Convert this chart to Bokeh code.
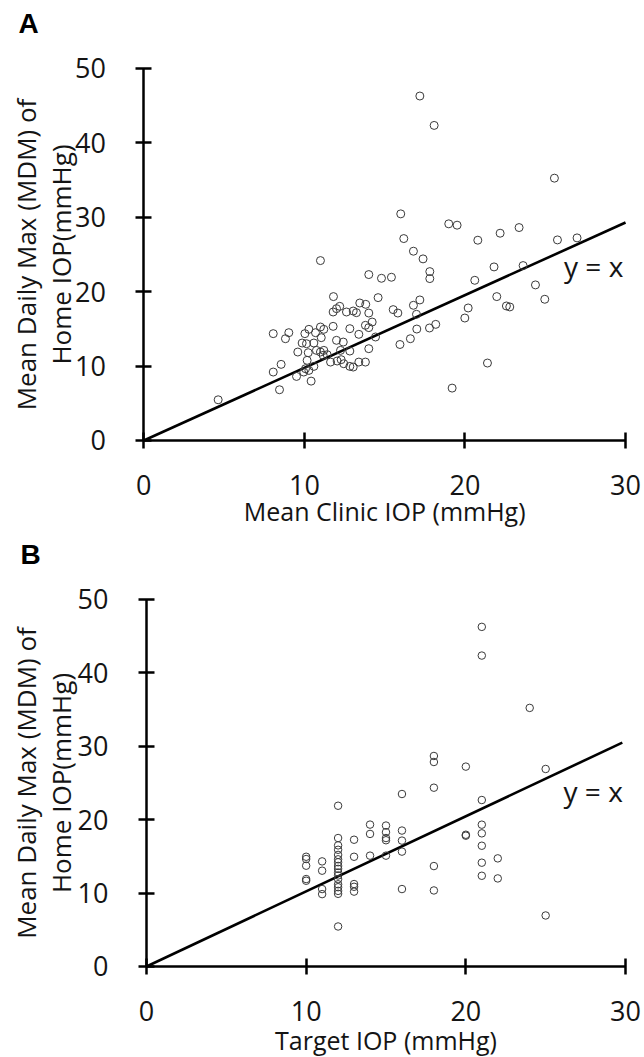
import math
from bokeh.plotting import figure
from bokeh.layouts import column
from bokeh.models import Range1d, FixedTicker, Label, ColumnDataSource
from bokeh.embed import file_html
from bokeh.resources import INLINE

# ---------------- data ----------------
x_ticks = [0, 10, 20, 30]
y_ticks = [0, 10, 20, 30, 40, 50]

# Panel A: mean clinic IOP vs mean daily max home IOP
a_clinic = [17.19, 18.08, 25.57, 16.0, 18.99, 19.51, 23.37, 22.19, 16.19, 20.80,
            25.76, 26.98, 16.79, 17.39, 11.0, 17.81, 17.81, 14.01, 14.80, 15.42,
            21.81, 23.62, 20.61, 24.39, 21.98, 24.97, 22.58, 22.79, 20.20, 19.99,
            17.19, 16.79, 16.98, 14.59, 11.81, 16.60, 17.0, 17.79, 18.18, 21.40,
            19.20, 4.63, 15.95,
            8.06, 9.03, 8.82, 8.55, 8.06, 8.45, 9.51, 10.42, 10.03, 10.28,
            9.86, 10.13, 10.69, 11.0, 11.21, 10.59, 11.05, 9.59, 10.24, 10.75,
            11.0, 11.21, 10.17, 10.07, 10.28, 10.59, 9.96, 11.63, 11.79, 12.0,
            12.42, 12.25, 12.83, 12.83, 13.39, 14.01, 13.8, 14.22, 14.01, 14.43,
            13.39, 13.8, 12.83, 13.04, 12.04, 12.29, 12.45, 11.17, 11.42, 11.79,
            12.0, 12.2, 12.62, 13.04, 13.24, 14.01, 13.45, 13.82, 15.53, 15.82]
a_mdm = [46.3, 42.35, 35.26, 30.46, 29.12, 28.94, 28.62, 27.86, 27.14, 26.92,
         26.96, 27.23, 25.44, 24.41, 24.18, 22.70, 21.76, 22.30, 21.80, 21.94,
         23.33, 23.51, 21.53, 20.91, 19.34, 18.98, 18.08, 17.95, 17.81, 16.46,
         18.89, 18.17, 16.96, 19.20, 19.34, 13.68, 14.98, 15.12, 15.61, 10.41,
         7.04, 5.47, 12.9,
         14.36, 14.49, 13.68, 10.23, 9.2, 6.82, 8.61, 7.98, 14.36, 14.94,
         13.1, 13.01, 14.49, 15.25, 14.94, 13.1, 13.82, 11.89, 11.8, 12.11,
         11.89, 12.11, 10.77, 9.65, 9.42, 9.96, 9.2, 10.54, 15.34, 13.46,
         13.23, 12.11, 12.02, 15.03, 14.27, 15.17, 15.48, 15.92, 12.34, 13.91,
         10.54, 10.54, 9.96, 9.87, 10.68, 10.86, 10.32, 11.44, 11.53, 17.27,
         17.72, 18.03, 17.27, 17.4, 17.18, 17.13, 18.48, 18.3, 17.59, 17.13]

# Panel B: target IOP vs mean daily max home IOP
b_target = [10, 10, 10, 10, 10,
            11, 11, 11, 11,
            12, 12, 12, 12, 12, 12, 12, 12, 12, 12, 12, 12, 12, 12, 12, 12, 12,
            13, 13, 13, 13, 13,
            14, 14, 14,
            15, 15, 15, 15, 15,
            16, 16, 16, 16, 16,
            18, 18, 18, 18, 18,
            20, 20, 20,
            21, 21, 21, 21, 21, 21, 21, 21,
            22, 22,
            24,
            25, 25]
b_mdm = [14.95, 14.64, 13.73, 11.91, 11.68,
         14.32, 13.05, 10.55, 9.86,
         21.9, 17.5, 16.5, 15.9, 15.2, 14.6, 14.2, 13.7, 13.3, 12.8, 12.4, 11.9, 11.2, 10.8, 10.3, 9.9, 5.45,
         17.27, 14.95, 11.23, 10.86, 10.2,
         19.33, 18.06, 15.1,
         19.2, 18.3, 17.5, 17.2, 15.1,
         23.5, 18.52, 17.15, 15.65, 10.55,
         28.68, 27.86, 24.36, 13.68, 10.36,
         27.23, 17.95, 17.82,
         46.27, 42.36, 22.68, 19.32, 18.14, 16.45, 14.14, 12.36,
         14.73, 12.0,
         35.23,
         26.91, 6.95]

# reference lines (labelled y = x), as drawn in the picture
a_line_x = [0, 30]
a_line_y = [0, 29.3]
b_line_x = [0, 29.8]
b_line_y = [0, 30.5]

a_xlabel = "Mean Clinic IOP (mmHg)"
b_xlabel = "Target IOP (mmHg)"
ylabel_1 = "Mean Daily Max (MDM) of"
ylabel_2 = "Home IOP(mmHg)"

FONT = "Open Sans"
TXT = "#141414"


def make_panel(letter, xs, ys, lx, ly, xlabel, height, xr, yr, marker_size, cfg):
    p = figure(width=644, height=height, x_range=Range1d(*xr),
               y_range=Range1d(*yr), output_backend="svg",
               toolbar_location=None, tools="",
               min_border=0, min_border_left=0, min_border_right=0,
               min_border_top=0, min_border_bottom=0)
    p.outline_line_color = None
    p.grid.visible = False
    p.background_fill_color = "white"
    p.border_fill_color = "white"
    p.xaxis.ticker = FixedTicker(ticks=x_ticks)
    p.yaxis.ticker = FixedTicker(ticks=y_ticks)
    p.xaxis.fixed_location = 0
    p.yaxis.fixed_location = 0
    p.xaxis.bounds = (0, 30)
    p.yaxis.bounds = (0, 50)
    for ax in (p.xaxis, p.yaxis):
        ax.axis_line_width = 2.5
        ax.axis_line_color = "black"
        ax.major_tick_line_width = 2.5
        ax.major_tick_line_color = "black"
        ax.major_tick_in = 8
        ax.major_tick_out = 8
        ax.minor_tick_line_color = None
        ax.major_label_text_font = FONT
        ax.major_label_text_font_size = "27px"
        ax.major_label_text_color = TXT
    p.xaxis.major_label_standoff = 27
    p.yaxis.major_label_standoff = 30

    p.line(lx, ly, line_color="black", line_width=2.6)
    src = ColumnDataSource(dict(x=xs, y=ys))
    p.scatter("x", "y", source=src, marker="circle", size=marker_size,
              fill_color=None, line_color="#3a3a3a", line_width=1)

    p.add_layout(Label(x=15, y=cfg["xl_y"], text=xlabel, text_align="center",
                       text_baseline="alphabetic", text_font=FONT,
                       text_font_size="25px", text_color=TXT))
    p.add_layout(Label(x=cfg["yl1_x"], y=25, text=ylabel_1, angle=math.pi / 2,
                       text_align="center", text_baseline="alphabetic",
                       text_font=FONT, text_font_size="26px", text_color=TXT))
    p.add_layout(Label(x=cfg["yl2_x"], y=25, text=ylabel_2, angle=math.pi / 2,
                       text_align="center", text_baseline="alphabetic",
                       text_font=FONT, text_font_size="26px", text_color=TXT))
    p.add_layout(Label(x=cfg["let_x"], y=cfg["let_y"], text=letter,
                       text_align="left", text_baseline="alphabetic",
                       text_font="Liberation Sans", text_font_style="bold",
                       text_font_size="28px", text_color="black"))
    p.add_layout(Label(x=cfg["yx_x"], y=cfg["yx_y"], text="y = x",
                       text_align="right", text_baseline="alphabetic",
                       text_font=FONT, text_font_size="28px", text_color=TXT))
    return p


pA = make_panel("A", a_clinic, a_mdm, a_line_x, a_line_y, a_xlabel, 530,
                (-8.925, 31.18), (-12.10, 59.14), 8,
                dict(xl_y=-9.50, yl1_x=-7.34, yl2_x=-5.16, let_x=-7.8,
                     let_y=56.05, yx_x=29.86, yx_y=23.42))
pB = make_panel("B", b_target, b_mdm, b_line_x, b_line_y, b_xlabel, 527,
                (-9.144, 31.19), (-12.40, 59.40), 7.5,
                dict(xl_y=-10.05, yl1_x=-7.55, yl2_x=-5.36, let_x=-7.89,
                     let_y=56.13, yx_x=29.83, yx_y=23.87))

layout = column(pA, pB)
open("out.html", "w").write(file_html(layout, INLINE))
